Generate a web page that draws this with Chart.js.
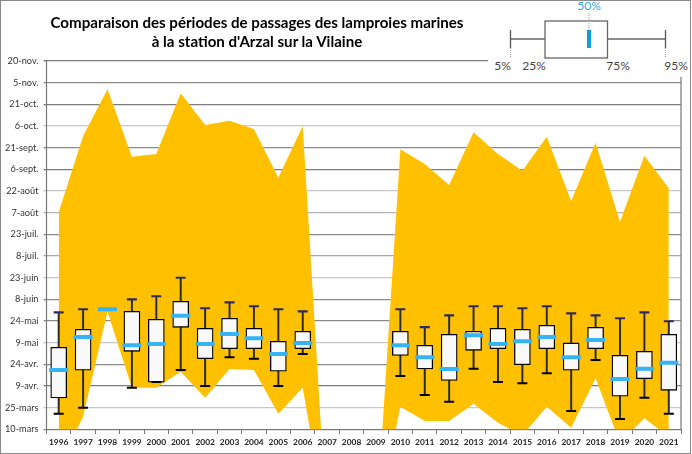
<!DOCTYPE html>
<html lang="fr"><head><meta charset="utf-8">
<script src="https://cdn.jsdelivr.net/npm/chart.js@4"></script>
<style>
html,body{margin:0;padding:0;background:#fff}
#wrap{position:relative;width:692px;height:454px;overflow:hidden;background:#fff}
#c{position:absolute;left:0;top:0}
#title{position:absolute;left:20px;width:474px;top:13px;text-align:center;font:bold 15.1px/18.5px Lato,sans-serif;color:#000}
#frame{position:absolute;left:0;top:0;width:690.5px;height:453.5px;box-sizing:border-box;border:1.7px solid #8a8a8a;pointer-events:none}
#key{position:absolute;left:488px;top:0;width:202px;height:77px;background:#fff}
</style></head><body>
<div id="wrap">
<canvas id="c" width="692" height="454"></canvas>
<div id="title">Comparaison des périodes de passages des lamproies marines<br>à la station d'Arzal sur la Vilaine</div>
<svg id="key" viewBox="488 0 202 77" font-family="Lato, sans-serif" font-size="12">
<g stroke="#666" stroke-width="1.3" fill="none">
<path d="M510.5 39H545M607 39H665.5"/>
<path d="M510.5 30V48M665.5 30V48" stroke="#555"/>
<path d="M510.5 48V58M665.5 48V58" stroke="#aaa" stroke-dasharray="1 1"/>
<rect x="545" y="21" width="62.500" height="37"/>
<path d="M589 13V30" stroke="#7cc7ea" stroke-dasharray="1 1"/>
</g>
<rect x="587" y="30" width="4" height="18" fill="#0b9fe0"/>
<g fill="#444" text-anchor="middle">
<text x="502.500" y="70">5%</text><text x="534" y="70">25%</text><text x="618" y="70">75%</text><text x="676" y="70">95%</text>
</g>
<text x="589" y="10" fill="#2fa9dd" text-anchor="middle">50%</text>
</svg>
<div id="frame"></div>
</div>
<script>
const years=[1996,1997,1998,1999,2000,2001,2002,2003,2004,2005,2006,2007,2008,2009,2010,2011,2012,2013,2014,2015,2016,2017,2018,2019,2020,2021];
const dateLabels=["10-mars","25-mars","9-avr.","24-avr.","9-mai","24-mai","8-juin","23-juin","8-juil.","23-juil.","7-août","22-août","6-sept.","21-sept.","6-oct.","21-oct.","5-nov.","20-nov."];
// values are day of year
const rangeMax=[219.3,272.1,304.4,257.8,259.6,301.6,279.7,282.7,276.9,243.2,279,0,0,0,262.9,252.7,238.2,274.7,259.6,248.1,271.6,227.1,267.5,212.8,258.5,235.9];
const rangeMin=[43,77.9,150.5,97.9,97.9,109,91,110.9,110.2,79.9,97.9,0,0,0,84.8,74.9,74.9,86.9,73.7,64.8,84.8,70.2,104.4,59.7,76.8,63.8];
const p95=[150.1,152.2,152.2,159.1,161.2,174,152.9,157,154.3,152.2,150.8,null,null,null,152.2,139.9,148,154.3,154.3,152.9,154.3,149.4,148,146,150.1,143.9];
const p75=[125.9,138.3,152.2,150.8,145.3,157.7,139,146,139,130,137,null,null,null,137,127.3,134.9,137,139,138.3,141.1,128.9,139.7,120.3,123.1,134.9];
const p50=[110.2,133,152.2,127.3,128.2,147.7,128.2,135.1,132.1,121.2,128.9,null,null,null,127.3,119,110.9,134.2,128.2,130,133,119,130.9,103.9,111.1,115.2];
const p25=[90.8,110,152.2,123.1,101.7,139.7,118,124.9,124.9,109.3,124.9,null,null,null,120.3,110.9,103,123.8,124.9,113.8,124.9,110,124.9,92,104.2,96.1];
const p05=[79.9,84.1,152.2,97.9,101.9,110.2,99.1,119,118,99.1,121.2,null,null,null,106,92.9,88.2,111.1,101.9,101,107.9,81.8,117.1,76.3,91,79.9];
const gridColors=["#8c8c8c","#c8c8c8","#7c7c7c","#8c8c8c","#c8c8c8","#8c8c8c","#8c8c8c","#c8c8c8","#a8a8a8","#8c8c8c","#b4b4b4","#c8c8c8","#7c7c7c","#8c8c8c","#c8c8c8","#7c7c7c","#8c8c8c","#7c7c7c"];
const pair=(a,b)=>a.map((v,i)=>v===null?null:[v,b[i]]);
const marker=(label,data,color,r,w,order)=>({type:'line',label,data,showLine:false,pointStyle:'line',pointRadius:r,pointHoverRadius:r,pointBorderColor:color,pointBorderWidth:w,borderColor:color,order});
const framePlugin={id:'frameBox',afterDraw(ch){const a=ch.chartArea,x=ch.ctx;x.save();x.strokeStyle='#777';x.lineWidth=1.2;x.beginPath();x.moveTo(a.right,a.top);x.lineTo(a.right,a.bottom);x.moveTo(a.left,a.top);x.lineTo(a.left,a.bottom);x.stroke();x.restore();}};
new Chart(document.getElementById('c'),{
 data:{labels:years,datasets:[
  {type:'line',label:'max',data:rangeMax,fill:'+1',backgroundColor:'#FFC000',borderWidth:0,pointRadius:0,tension:0,order:10},
  {type:'line',label:'min',data:rangeMin,fill:false,borderWidth:0,pointRadius:0,tension:0,order:11},
  {type:'bar',label:'p5-p95',data:pair(p05,p95),backgroundColor:'#2a2a2a',barThickness:1.3,grouped:false,order:6},
  {type:'bar',label:'p25-p75',data:pair(p25,p75),backgroundColor:'#f9f9f9',borderColor:'#000',borderWidth:1.3,borderSkipped:false,barThickness:16,grouped:false,order:5},
  marker('p5',p05,'#000',5,2,4),
  marker('p95',p95,'#2f2a63',5,2.2,3),
  marker('p50',p50,'#35b3f5',9.5,4,1)
 ]},
 options:{responsive:false,animation:false,devicePixelRatio:1,
  layout:{autoPadding:false,padding:{top:61,right:11,left:0,bottom:0}},
  plugins:{legend:{display:false},title:{display:false},tooltip:{enabled:false}},
  scales:{
   x:{type:'category',offset:true,grid:{drawOnChartArea:false,color:'#777',tickLength:6,lineWidth:1,tickBorderDash:[4,6]},border:{color:'#777'},
      ticks:{font:{family:'Lato',size:8.4,weight:'bold'},color:'#222',padding:2,autoSkip:false,maxRotation:0},
      afterFit(s){s.height=24.5;}},
   y:{type:'linear',min:69,max:324,grid:{color:c=>gridColors[c.index],lineWidth:1.3,tickLength:3},border:{display:false},
      ticks:{stepSize:15,font:{family:'Lato',size:9.2},color:'#333',padding:5,callback:v=>dateLabels[Math.round((v-69)/15)]},
      afterFit(s){s.width=46.5;}}
  }},
 plugins:[framePlugin]
});
</script>
</body></html>
